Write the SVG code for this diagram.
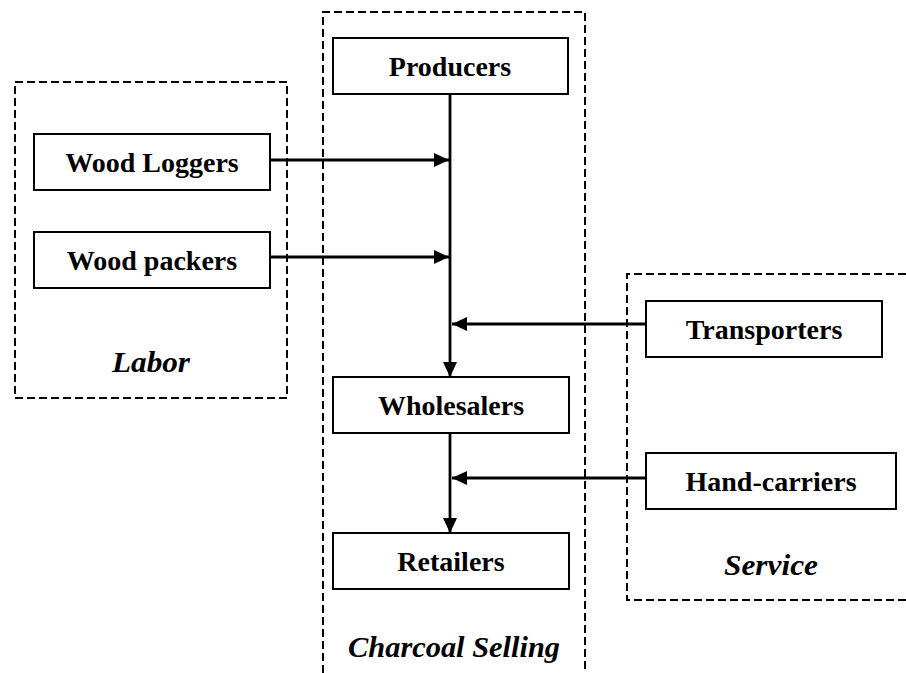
<svg xmlns="http://www.w3.org/2000/svg" width="906" height="673" viewBox="0 0 906 673">
<defs>
<marker id="ah" viewBox="0 0 15 14" refX="15" refY="7" markerWidth="15" markerHeight="14" markerUnits="userSpaceOnUse" orient="auto">
<path d="M0,0 L15,7 L0,14 Z" fill="#000"/>
</marker>
<style>
.box{fill:#fff;stroke:#000;stroke-width:2}
.grp{fill:none;stroke:#000;stroke-width:2;stroke-dasharray:8,4}
.lbl{font-family:"Liberation Serif","Times New Roman",serif;font-weight:bold;font-size:28px;text-anchor:middle;fill:#000}
.ttl{font-family:"Liberation Serif","Times New Roman",serif;font-weight:bold;font-style:italic;font-size:29px;text-anchor:middle;fill:#000}
.con{fill:none;stroke:#000;stroke-width:2.8;marker-end:url(#ah)}
</style>
</defs>
<rect width="906" height="673" fill="#fff"/>
<g id="groups">
<rect class="grp" x="15" y="82" width="272" height="316"/>
<path class="grp" d="M323,673 L323,12 L585,12 L585,673"/>
<path class="grp" d="M906,274 L627,274 L627,600 L906,600"/>
<text class="ttl" x="151" y="372" textLength="78" lengthAdjust="spacingAndGlyphs">Labor</text>
<text class="ttl" x="454" y="657" textLength="212" lengthAdjust="spacingAndGlyphs">Charcoal Selling</text>
<text class="ttl" x="771" y="575" textLength="94" lengthAdjust="spacingAndGlyphs">Service</text>
</g>
<g id="connectors">
<line class="con" x1="450" y1="94" x2="450" y2="377"/>
<line class="con" x1="450" y1="433" x2="450" y2="533"/>
<line class="con" x1="270" y1="160" x2="449" y2="160"/>
<line class="con" x1="270" y1="257" x2="449" y2="257"/>
<line class="con" x1="646" y1="324" x2="452" y2="324"/>
<line class="con" x1="646" y1="478" x2="452" y2="478"/>
</g>
<g id="producers"><rect class="box" x="333" y="38" width="235" height="56"/><text class="lbl" x="450" y="76">Producers</text></g>
<g id="wholesalers"><rect class="box" x="333" y="377" width="236" height="56"/><text class="lbl" x="451" y="415">Wholesalers</text></g>
<g id="retailers"><rect class="box" x="333" y="533" width="236" height="56"/><text class="lbl" x="451" y="571">Retailers</text></g>
<g id="wood-loggers"><rect class="box" x="34" y="134" width="236" height="56"/><text class="lbl" x="152" y="172">Wood Loggers</text></g>
<g id="wood-packers"><rect class="box" x="34" y="232" width="236" height="56"/><text class="lbl" x="152" y="270">Wood packers</text></g>
<g id="transporters"><rect class="box" x="646" y="301" width="236" height="56"/><text class="lbl" x="764" y="339">Transporters</text></g>
<g id="hand-carriers"><rect class="box" x="646" y="453" width="250" height="56"/><text class="lbl" x="771" y="491">Hand-carriers</text></g>
</svg>
